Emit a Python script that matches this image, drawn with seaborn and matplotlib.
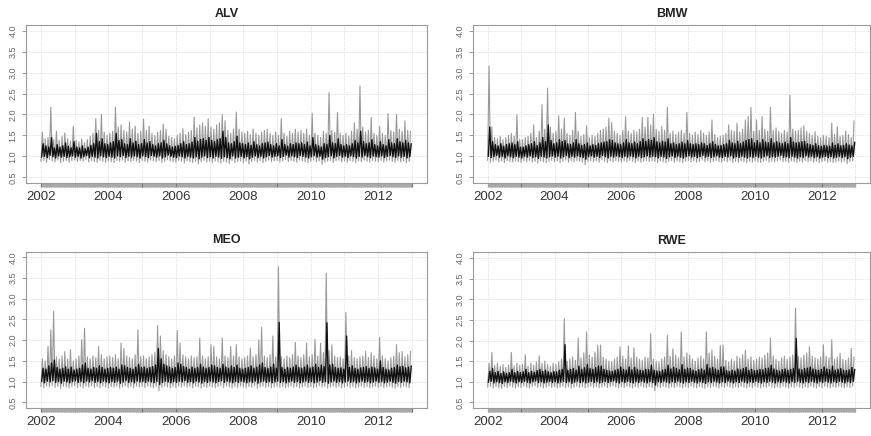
import numpy as np
import pandas as pd
import matplotlib
matplotlib.use("Agg")
import matplotlib.pyplot as plt
import seaborn as sns
from matplotlib.ticker import FixedLocator

# monthly readings, Jan 2002 .. Dec 2012 (one row per year)
# peak / trough = grey envelope, core_hi / core_lo = dark band
alv_peak = [
    1.58, 1.42, 1.45, 2.17, 1.40, 1.60, 1.38, 1.48, 1.56, 1.42, 1.36, 1.72,
    1.38, 1.35, 1.42, 1.32, 1.40, 1.48, 1.55, 1.90, 1.62, 2.00, 1.58, 1.50,
    1.55, 1.60, 2.17, 1.70, 1.75, 1.62, 1.58, 1.82, 1.65, 1.72, 1.55, 1.60,
    1.89, 1.62, 1.72, 1.55, 1.50, 1.58, 1.62, 1.77, 1.65, 1.48, 1.45, 1.42,
    1.50, 1.55, 1.66, 1.52, 1.58, 1.62, 1.94, 1.68, 1.75, 1.80, 1.72, 1.90,
    1.70, 1.65, 1.75, 1.80, 2.00, 1.85, 1.62, 1.55, 1.65, 2.06, 1.65, 1.58,
    1.55, 1.60, 1.52, 1.65, 1.55, 1.50, 1.58, 1.62, 1.65, 1.55, 1.50, 1.58,
    1.50, 1.90, 1.55, 1.48, 1.60, 1.55, 1.65, 1.58, 1.62, 1.55, 1.65, 1.50,
    2.03, 1.55, 1.50, 1.45, 1.60, 1.55, 2.52, 1.62, 1.58, 2.05, 1.55, 1.50,
    1.55, 1.48, 1.60, 1.80, 1.65, 2.68, 1.70, 1.58, 1.62, 1.93, 1.55, 1.50,
    1.72, 1.55, 1.50, 2.02, 1.62, 1.58, 2.00, 1.65, 1.60, 1.85, 1.62, 1.60,
]
alv_trough = [
    0.88, 0.90, 0.86, 0.92, 0.89, 0.87, 0.91, 0.85, 0.88, 0.90, 0.86, 0.89,
    0.91, 0.87, 0.90, 0.88, 0.92, 0.86, 0.89, 0.87, 0.85, 0.90, 0.88, 0.86,
    0.89, 0.87, 0.85, 0.90, 0.88, 0.91, 0.86, 0.89, 0.87, 0.90, 0.88, 0.85,
    0.90, 0.88, 0.86, 0.91, 0.89, 0.87, 0.90, 0.85, 0.88, 0.92, 0.89, 0.87,
    0.86, 0.90, 0.88, 0.84, 0.89, 0.87, 0.85, 0.88, 0.82, 0.87, 0.90, 0.86,
    0.88, 0.85, 0.89, 0.87, 0.84, 0.88, 0.86, 0.83, 0.90, 0.85, 0.87, 0.89,
    0.85, 0.88, 0.82, 0.87, 0.90, 0.86, 0.89, 0.85, 0.88, 0.91, 0.87, 0.89,
    0.90, 0.86, 0.89, 0.92, 0.87, 0.90, 0.88, 0.86, 0.91, 0.89, 0.87, 0.85,
    0.88, 0.91, 0.87, 0.89, 0.80, 0.86, 0.88, 0.90, 0.85, 0.89, 0.91, 0.87,
    0.89, 0.86, 0.90, 0.88, 0.85, 0.89, 0.87, 0.91, 0.88, 0.86, 0.90, 0.88,
    0.87, 0.90, 0.86, 0.89, 0.91, 0.88, 0.86, 0.90, 0.87, 0.89, 0.85, 0.88,
]
alv_core_hi = [
    1.30, 1.25, 1.22, 1.45, 1.20, 1.28, 1.22, 1.25, 1.32, 1.24, 1.20, 1.35,
    1.22, 1.20, 1.25, 1.18, 1.22, 1.26, 1.30, 1.55, 1.35, 1.42, 1.30, 1.28,
    1.32, 1.35, 1.55, 1.38, 1.40, 1.30, 1.28, 1.42, 1.32, 1.36, 1.28, 1.30,
    1.40, 1.32, 1.35, 1.28, 1.25, 1.30, 1.32, 1.38, 1.30, 1.25, 1.22, 1.24,
    1.26, 1.30, 1.35, 1.28, 1.30, 1.34, 1.45, 1.36, 1.40, 1.42, 1.38, 1.45,
    1.38, 1.35, 1.40, 1.42, 1.60, 1.45, 1.32, 1.30, 1.35, 1.48, 1.32, 1.30,
    1.28, 1.32, 1.26, 1.35, 1.28, 1.25, 1.30, 1.32, 1.34, 1.28, 1.25, 1.30,
    1.25, 1.40, 1.28, 1.24, 1.30, 1.28, 1.32, 1.30, 1.32, 1.28, 1.34, 1.25,
    1.45, 1.28, 1.25, 1.22, 1.30, 1.28, 1.50, 1.32, 1.30, 1.42, 1.28, 1.25,
    1.28, 1.25, 1.30, 1.38, 1.32, 1.60, 1.35, 1.30, 1.32, 1.40, 1.28, 1.25,
    1.35, 1.28, 1.25, 1.40, 1.32, 1.30, 1.42, 1.35, 1.32, 1.38, 1.32, 1.30,
]
alv_core_lo = [
    0.98, 1.00, 0.97, 1.02, 0.99, 0.96, 1.01, 0.98, 1.00, 0.97, 0.99, 1.01,
    0.98, 1.00, 0.96, 0.99, 1.02, 0.97, 1.00, 0.98, 0.96, 1.01, 0.99, 0.97,
    1.00, 0.98, 0.96, 1.01, 0.99, 1.02, 0.97, 1.00, 0.98, 1.01, 0.99, 0.96,
    1.01, 0.99, 0.97, 1.02, 1.00, 0.98, 1.01, 0.96, 0.99, 1.03, 1.00, 0.98,
    0.97, 1.01, 0.99, 0.96, 1.00, 0.98, 0.96, 0.99, 0.94, 0.98, 1.01, 0.97,
    0.99, 0.96, 1.00, 0.98, 0.95, 0.99, 0.97, 0.94, 1.01, 0.96, 0.98, 1.00,
    0.96, 0.99, 0.94, 0.98, 1.01, 0.97, 1.00, 0.96, 0.99, 1.02, 0.98, 1.00,
    1.01, 0.97, 1.00, 1.03, 0.98, 1.01, 0.99, 0.97, 1.02, 1.00, 0.98, 0.96,
    0.99, 1.02, 0.98, 1.00, 0.93, 0.97, 0.99, 1.01, 0.96, 1.00, 1.02, 0.98,
    1.00, 0.97, 1.01, 0.99, 0.96, 1.00, 0.98, 1.02, 0.99, 0.97, 1.01, 0.99,
    0.98, 1.01, 0.97, 1.00, 1.02, 0.99, 0.97, 1.01, 0.98, 1.00, 0.96, 0.99,
]

bmw_peak = [
    3.16, 1.70, 1.45, 1.42, 1.48, 1.40, 1.45, 1.50, 1.55, 1.48, 1.99, 1.40,
    1.40, 1.45, 1.48, 1.55, 1.75, 1.45, 1.60, 2.23, 1.65, 2.63, 1.70, 1.55,
    1.60, 1.97, 1.65, 1.91, 1.55, 1.50, 1.62, 2.05, 1.60, 1.48, 1.52, 1.73,
    1.45, 1.50, 1.48, 1.55, 1.62, 1.65, 1.70, 1.91, 1.81, 1.60, 1.55, 1.50,
    1.62, 1.95, 1.60, 1.55, 1.62, 1.58, 1.65, 1.93, 1.70, 1.93, 1.75, 2.01,
    1.65, 1.60, 1.71, 1.62, 2.17, 1.55, 1.60, 1.52, 1.58, 1.62, 1.55, 2.05,
    1.55, 1.50, 1.58, 1.52, 1.62, 1.55, 1.50, 1.58, 1.87, 1.52, 1.45, 1.48,
    1.50, 1.55, 1.75, 1.62, 1.60, 1.79, 1.58, 1.65, 1.87, 1.95, 2.17, 1.60,
    1.87, 1.62, 1.95, 1.65, 1.60, 2.17, 1.62, 1.68, 1.60, 1.55, 1.62, 1.58,
    2.46, 1.65, 1.60, 1.62, 1.68, 1.73, 1.60, 1.55, 1.50, 1.59, 1.48, 1.45,
    1.50, 1.48, 1.45, 1.79, 1.52, 1.71, 1.48, 1.50, 1.60, 1.52, 1.45, 1.85,
]
bmw_trough = [
    0.90, 0.86, 0.88, 0.91, 0.87, 0.89, 0.85, 0.90, 0.88, 0.86, 0.89, 0.87,
    0.85, 0.89, 0.87, 0.90, 0.86, 0.88, 0.84, 0.89, 0.87, 0.85, 0.88, 0.90,
    0.87, 0.89, 0.85, 0.88, 0.91, 0.86, 0.89, 0.87, 0.90, 0.88, 0.86, 0.80,
    0.88, 0.90, 0.87, 0.89, 0.86, 0.91, 0.88, 0.85, 0.89, 0.87, 0.90, 0.88,
    0.86, 0.89, 0.87, 0.90, 0.88, 0.85, 0.89, 0.86, 0.88, 0.90, 0.87, 0.89,
    0.88, 0.85, 0.89, 0.87, 0.84, 0.88, 0.90, 0.86, 0.89, 0.87, 0.85, 0.88,
    0.90, 0.87, 0.89, 0.86, 0.88, 0.91, 0.87, 0.89, 0.86, 0.88, 0.90, 0.87,
    0.86, 0.89, 0.87, 0.90, 0.85, 0.88, 0.86, 0.89, 0.87, 0.85, 0.88, 0.86,
    0.89, 0.87, 0.85, 0.88, 0.90, 0.86, 0.88, 0.87, 0.89, 0.91, 0.87, 0.88,
    0.86, 0.89, 0.87, 0.85, 0.88, 0.86, 0.90, 0.87, 0.89, 0.86, 0.88, 0.85,
    0.87, 0.89, 0.86, 0.88, 0.85, 0.87, 0.89, 0.86, 0.88, 0.82, 0.87, 0.89,
]
bmw_core_hi = [
    1.70, 1.35, 1.28, 1.25, 1.30, 1.24, 1.28, 1.30, 1.32, 1.28, 1.35, 1.22,
    1.22, 1.25, 1.28, 1.30, 1.35, 1.26, 1.32, 1.45, 1.35, 1.75, 1.38, 1.30,
    1.32, 1.40, 1.35, 1.38, 1.30, 1.28, 1.32, 1.40, 1.30, 1.26, 1.28, 1.32,
    1.25, 1.28, 1.26, 1.30, 1.32, 1.34, 1.35, 1.40, 1.38, 1.32, 1.30, 1.28,
    1.32, 1.40, 1.32, 1.30, 1.34, 1.30, 1.35, 1.42, 1.36, 1.40, 1.38, 1.45,
    1.35, 1.32, 1.36, 1.34, 1.42, 1.30, 1.32, 1.28, 1.30, 1.34, 1.30, 1.38,
    1.30, 1.28, 1.30, 1.28, 1.32, 1.30, 1.26, 1.30, 1.35, 1.28, 1.25, 1.26,
    1.28, 1.30, 1.38, 1.32, 1.30, 1.36, 1.30, 1.34, 1.38, 1.40, 1.42, 1.32,
    1.38, 1.32, 1.40, 1.34, 1.32, 1.42, 1.32, 1.35, 1.32, 1.30, 1.34, 1.30,
    1.45, 1.34, 1.32, 1.33, 1.35, 1.36, 1.30, 1.28, 1.26, 1.30, 1.25, 1.24,
    1.26, 1.25, 1.24, 1.32, 1.26, 1.30, 1.25, 1.26, 1.30, 1.27, 1.25, 1.34,
]
bmw_core_lo = [
    1.00, 0.97, 0.99, 1.02, 0.98, 1.00, 0.96, 1.01, 0.99, 0.97, 1.00, 0.98,
    0.96, 1.00, 0.98, 1.01, 0.97, 0.99, 0.95, 1.00, 0.98, 0.96, 0.99, 1.01,
    0.98, 1.00, 0.96, 0.99, 1.02, 0.97, 1.00, 0.98, 1.01, 0.99, 0.97, 0.93,
    0.99, 1.01, 0.98, 1.00, 0.97, 1.02, 0.99, 0.96, 1.00, 0.98, 1.01, 0.99,
    0.97, 1.00, 0.98, 1.01, 0.99, 0.96, 1.00, 0.97, 0.99, 1.01, 0.98, 1.00,
    0.99, 0.96, 1.00, 0.98, 0.95, 0.99, 1.01, 0.97, 1.00, 0.98, 0.96, 0.99,
    1.01, 0.98, 1.00, 0.97, 0.99, 1.02, 0.98, 1.00, 0.97, 0.99, 1.01, 0.98,
    0.97, 1.00, 0.98, 1.01, 0.96, 0.99, 0.97, 1.00, 0.98, 0.96, 0.99, 0.97,
    1.00, 0.98, 0.96, 0.99, 1.01, 0.97, 0.99, 0.98, 1.00, 1.02, 0.98, 0.99,
    0.97, 1.00, 0.98, 0.96, 0.99, 0.97, 1.01, 0.98, 1.00, 0.97, 0.99, 0.96,
    0.98, 1.00, 0.97, 0.99, 0.96, 0.98, 1.00, 0.97, 0.99, 0.94, 0.98, 1.00,
]

meo_peak = [
    1.55, 1.50, 1.85, 2.25, 2.70, 1.60, 1.55, 1.62, 1.73, 1.55, 1.77, 1.50,
    1.55, 1.62, 2.02, 2.29, 1.60, 1.55, 1.62, 1.58, 1.85, 1.65, 1.55, 1.60,
    1.62, 1.58, 1.65, 1.55, 1.93, 1.80, 1.62, 1.58, 1.55, 1.65, 2.25, 1.60,
    1.62, 1.55, 1.60, 1.65, 1.70, 2.35, 2.10, 1.75, 1.65, 1.60, 1.55, 1.62,
    2.23, 1.93, 1.65, 1.60, 1.55, 1.62, 1.58, 1.60, 2.05, 1.62, 1.55, 1.60,
    1.89, 1.85, 1.60, 1.55, 2.05, 1.62, 1.58, 1.85, 1.62, 1.89, 1.60, 1.55,
    1.58, 1.62, 1.81, 1.60, 1.65, 2.01, 2.31, 1.62, 1.58, 1.65, 2.10, 1.60,
    3.77, 1.60, 1.55, 1.62, 1.58, 1.65, 1.95, 1.62, 1.58, 1.65, 1.93, 1.60,
    1.65, 2.02, 1.62, 1.93, 1.70, 3.62, 1.75, 1.89, 1.62, 1.58, 1.60, 1.55,
    2.67, 1.62, 1.75, 1.58, 1.55, 1.60, 1.62, 1.73, 1.58, 1.70, 1.62, 1.55,
    2.07, 1.62, 1.55, 1.50, 1.58, 1.62, 1.89, 1.70, 1.73, 1.60, 1.65, 1.73,
]
meo_trough = [
    0.88, 0.85, 0.89, 0.87, 0.90, 0.86, 0.88, 0.84, 0.89, 0.87, 0.85, 0.88,
    0.90, 0.86, 0.88, 0.85, 0.89, 0.87, 0.90, 0.86, 0.88, 0.85, 0.89, 0.87,
    0.85, 0.88, 0.86, 0.89, 0.84, 0.87, 0.90, 0.86, 0.88, 0.85, 0.89, 0.87,
    0.88, 0.86, 0.89, 0.87, 0.85, 0.88, 0.78, 0.86, 0.89, 0.87, 0.85, 0.88,
    0.86, 0.89, 0.87, 0.90, 0.86, 0.88, 0.85, 0.89, 0.87, 0.84, 0.88, 0.86,
    0.89, 0.87, 0.85, 0.88, 0.90, 0.86, 0.89, 0.87, 0.85, 0.88, 0.86, 0.89,
    0.87, 0.85, 0.88, 0.86, 0.89, 0.84, 0.87, 0.89, 0.86, 0.88, 0.85, 0.87,
    0.89, 0.86, 0.88, 0.85, 0.87, 0.89, 0.86, 0.88, 0.85, 0.87, 0.89, 0.86,
    0.88, 0.85, 0.87, 0.90, 0.86, 0.88, 0.84, 0.87, 0.89, 0.86, 0.88, 0.85,
    0.87, 0.89, 0.86, 0.88, 0.85, 0.87, 0.89, 0.86, 0.88, 0.85, 0.87, 0.89,
    0.86, 0.88, 0.85, 0.87, 0.89, 0.86, 0.84, 0.88, 0.86, 0.89, 0.87, 0.85,
]
meo_core_hi = [
    1.32, 1.30, 1.38, 1.45, 1.52, 1.34, 1.30, 1.32, 1.36, 1.30, 1.35, 1.28,
    1.30, 1.32, 1.40, 1.45, 1.32, 1.30, 1.34, 1.32, 1.38, 1.34, 1.30, 1.32,
    1.34, 1.32, 1.35, 1.30, 1.40, 1.38, 1.34, 1.32, 1.30, 1.35, 1.42, 1.34,
    1.35, 1.32, 1.34, 1.36, 1.40, 1.80, 1.55, 1.42, 1.38, 1.35, 1.32, 1.34,
    1.45, 1.42, 1.36, 1.34, 1.30, 1.35, 1.32, 1.34, 1.42, 1.35, 1.32, 1.34,
    1.40, 1.38, 1.34, 1.32, 1.42, 1.35, 1.32, 1.38, 1.34, 1.40, 1.32, 1.30,
    1.32, 1.34, 1.38, 1.32, 1.35, 1.40, 1.45, 1.34, 1.32, 1.35, 1.42, 1.32,
    2.43, 1.34, 1.30, 1.34, 1.32, 1.35, 1.40, 1.34, 1.32, 1.35, 1.40, 1.33,
    1.35, 1.42, 1.34, 1.40, 1.36, 2.42, 1.40, 1.42, 1.34, 1.32, 1.33, 1.30,
    2.10, 1.34, 1.38, 1.32, 1.30, 1.33, 1.34, 1.36, 1.32, 1.35, 1.33, 1.30,
    1.50, 1.34, 1.30, 1.28, 1.32, 1.34, 1.40, 1.36, 1.37, 1.33, 1.35, 1.38,
]
meo_core_lo = [
    1.00, 0.97, 1.01, 0.99, 1.02, 0.98, 1.00, 0.96, 1.01, 0.99, 0.97, 1.00,
    1.02, 0.98, 1.00, 0.97, 1.01, 0.99, 1.02, 0.98, 1.00, 0.97, 1.01, 0.99,
    0.97, 1.00, 0.98, 1.01, 0.96, 0.99, 1.02, 0.98, 1.00, 0.97, 1.01, 0.99,
    1.00, 0.98, 1.01, 0.99, 0.97, 1.00, 0.93, 0.98, 1.01, 0.99, 0.97, 1.00,
    0.98, 1.01, 0.99, 1.02, 0.98, 1.00, 0.97, 1.01, 0.99, 0.96, 1.00, 0.98,
    1.01, 0.99, 0.97, 1.00, 1.02, 0.98, 1.01, 0.99, 0.97, 1.00, 0.98, 1.01,
    0.99, 0.97, 1.00, 0.98, 1.01, 0.96, 0.99, 1.01, 0.98, 1.00, 0.97, 0.99,
    1.01, 0.98, 1.00, 0.97, 0.99, 1.01, 0.98, 1.00, 0.97, 0.99, 1.01, 0.98,
    1.00, 0.97, 0.99, 1.02, 0.98, 1.00, 0.96, 0.99, 1.01, 0.98, 1.00, 0.97,
    0.99, 1.01, 0.98, 1.00, 0.97, 0.99, 1.01, 0.98, 1.00, 0.97, 0.99, 1.01,
    0.98, 1.00, 0.97, 0.99, 1.01, 0.98, 0.96, 1.00, 0.98, 1.01, 0.99, 0.97,
]

rwe_peak = [
    1.45, 1.71, 1.40, 1.45, 1.38, 1.42, 1.35, 1.40, 1.71, 1.38, 1.45, 1.40,
    1.42, 1.65, 1.38, 1.45, 1.40, 1.48, 1.63, 1.45, 1.50, 1.42, 1.38, 1.45,
    1.42, 1.48, 1.55, 2.53, 1.50, 1.55, 1.60, 1.52, 2.06, 1.58, 1.70, 2.21,
    1.65, 1.60, 1.72, 1.89, 1.89, 1.60, 1.55, 1.50, 1.48, 1.55, 1.60, 1.85,
    1.62, 1.55, 1.87, 1.58, 1.82, 1.60, 1.55, 1.52, 1.60, 1.58, 2.17, 1.55,
    1.50, 1.48, 1.55, 1.60, 2.13, 1.62, 1.80, 1.65, 1.58, 2.21, 1.60, 1.70,
    1.65, 1.55, 1.50, 1.58, 1.62, 1.55, 2.21, 1.70, 1.77, 1.62, 1.55, 1.88,
    1.89, 1.52, 1.48, 1.55, 1.50, 1.62, 1.58, 1.65, 1.77, 1.55, 1.60, 1.52,
    1.55, 1.60, 1.58, 1.65, 1.70, 2.06, 1.62, 1.55, 1.50, 1.58, 1.62, 1.55,
    1.60, 1.65, 2.79, 1.62, 1.58, 1.65, 1.70, 1.85, 1.62, 1.58, 1.55, 1.60,
    1.90, 1.62, 1.58, 2.02, 1.55, 1.60, 1.69, 1.55, 1.52, 1.58, 1.81, 1.60,
]
rwe_trough = [
    0.87, 0.89, 0.85, 0.88, 0.86, 0.84, 0.88, 0.86, 0.89, 0.87, 0.85, 0.88,
    0.86, 0.89, 0.87, 0.85, 0.88, 0.90, 0.86, 0.88, 0.85, 0.87, 0.89, 0.86,
    0.88, 0.85, 0.87, 0.89, 0.86, 0.88, 0.84, 0.87, 0.89, 0.86, 0.88, 0.85,
    0.87, 0.89, 0.86, 0.88, 0.85, 0.87, 0.89, 0.86, 0.88, 0.90, 0.87, 0.85,
    0.88, 0.86, 0.89, 0.87, 0.85, 0.88, 0.86, 0.89, 0.87, 0.85, 0.88, 0.86,
    0.78, 0.88, 0.86, 0.89, 0.87, 0.85, 0.88, 0.86, 0.89, 0.87, 0.85, 0.88,
    0.86, 0.89, 0.87, 0.85, 0.88, 0.86, 0.84, 0.88, 0.86, 0.89, 0.87, 0.85,
    0.88, 0.86, 0.89, 0.87, 0.85, 0.88, 0.86, 0.89, 0.87, 0.85, 0.88, 0.86,
    0.89, 0.87, 0.85, 0.88, 0.86, 0.89, 0.87, 0.85, 0.88, 0.86, 0.89, 0.87,
    0.85, 0.88, 0.86, 0.89, 0.87, 0.85, 0.88, 0.86, 0.89, 0.87, 0.85, 0.88,
    0.86, 0.89, 0.87, 0.85, 0.88, 0.86, 0.89, 0.87, 0.85, 0.88, 0.86, 0.89,
]
rwe_core_hi = [
    1.25, 1.32, 1.22, 1.25, 1.20, 1.24, 1.20, 1.22, 1.30, 1.22, 1.25, 1.22,
    1.24, 1.30, 1.22, 1.25, 1.23, 1.27, 1.30, 1.25, 1.28, 1.24, 1.22, 1.25,
    1.24, 1.28, 1.30, 1.90, 1.28, 1.30, 1.32, 1.28, 1.38, 1.30, 1.34, 1.42,
    1.32, 1.30, 1.34, 1.38, 1.38, 1.30, 1.28, 1.26, 1.25, 1.28, 1.30, 1.36,
    1.30, 1.28, 1.36, 1.29, 1.35, 1.30, 1.28, 1.27, 1.30, 1.29, 1.40, 1.28,
    1.26, 1.25, 1.28, 1.30, 1.40, 1.31, 1.35, 1.32, 1.29, 1.42, 1.30, 1.33,
    1.32, 1.28, 1.26, 1.29, 1.31, 1.28, 1.42, 1.33, 1.35, 1.31, 1.28, 1.36,
    1.36, 1.27, 1.25, 1.28, 1.26, 1.31, 1.29, 1.32, 1.35, 1.28, 1.30, 1.27,
    1.28, 1.30, 1.29, 1.32, 1.33, 1.40, 1.31, 1.28, 1.26, 1.29, 1.31, 1.28,
    1.30, 1.32, 2.05, 1.31, 1.29, 1.32, 1.33, 1.36, 1.31, 1.29, 1.28, 1.30,
    1.36, 1.31, 1.29, 1.38, 1.28, 1.30, 1.32, 1.28, 1.27, 1.29, 1.35, 1.30,
]
rwe_core_lo = [
    0.99, 1.01, 0.97, 1.00, 0.98, 0.96, 1.00, 0.98, 1.01, 0.99, 0.97, 1.00,
    0.98, 1.01, 0.99, 0.97, 1.00, 1.02, 0.98, 1.00, 0.97, 0.99, 1.01, 0.98,
    1.00, 0.97, 0.99, 1.01, 0.98, 1.00, 0.96, 0.99, 1.01, 0.98, 1.00, 0.97,
    0.99, 1.01, 0.98, 1.00, 0.97, 0.99, 1.01, 0.98, 1.00, 1.02, 0.99, 0.97,
    1.00, 0.98, 1.01, 0.99, 0.97, 1.00, 0.98, 1.01, 0.99, 0.97, 1.00, 0.98,
    0.92, 1.00, 0.98, 1.01, 0.99, 0.97, 1.00, 0.98, 1.01, 0.99, 0.97, 1.00,
    0.98, 1.01, 0.99, 0.97, 1.00, 0.98, 0.96, 1.00, 0.98, 1.01, 0.99, 0.97,
    1.00, 0.98, 1.01, 0.99, 0.97, 1.00, 0.98, 1.01, 0.99, 0.97, 1.00, 0.98,
    1.01, 0.99, 0.97, 1.00, 0.98, 1.01, 0.99, 0.97, 1.00, 0.98, 1.01, 0.99,
    0.97, 1.00, 0.98, 1.01, 0.99, 0.97, 1.00, 0.98, 1.01, 0.99, 0.97, 1.00,
    0.98, 1.01, 0.99, 0.97, 1.00, 0.98, 1.01, 0.99, 0.97, 1.00, 0.98, 1.01,
]

titles = ["ALV", "BMW", "MEO", "RWE"]
series = {
    "ALV": (alv_peak, alv_trough, alv_core_hi, alv_core_lo),
    "BMW": (bmw_peak, bmw_trough, bmw_core_hi, bmw_core_lo),
    "MEO": (meo_peak, meo_trough, meo_core_hi, meo_core_lo),
    "RWE": (rwe_peak, rwe_trough, rwe_core_hi, rwe_core_lo),
}
year_ticks = list(range(2002, 2014))
year_labels = [str(y) if y % 2 == 0 else "" for y in year_ticks]
y_ticks = [0.5, 1.0, 1.5, 2.0, 2.5, 3.0, 3.5, 4.0]

sns.set_theme(style="white")
plt.rcParams["font.family"] = ["Liberation Sans", "DejaVu Sans"]

fig = plt.figure(figsize=(8.71, 4.36), dpi=100)
boxes = {
    "ALV": [0.030, 0.580, 0.460, 0.363],
    "BMW": [0.543, 0.580, 0.456, 0.363],
    "MEO": [0.030, 0.064, 0.460, 0.359],
    "RWE": [0.543, 0.064, 0.456, 0.357],
}


def zigzag(lo, hi, offset_lo, offset_hi):
    months = 2002 + np.arange(len(lo)) / 12.0
    x = np.empty(2 * len(lo))
    v = np.empty(2 * len(lo))
    x[0::2] = months + offset_lo / 12.0
    x[1::2] = months + offset_hi / 12.0
    v[0::2] = lo
    v[1::2] = hi
    return pd.DataFrame({"year": x, "value": v})


for name in titles:
    peak, trough, core_hi, core_lo = series[name]
    ax = fig.add_axes(boxes[name])
    grey = zigzag(trough, peak, 0.0, 0.5)
    dark = zigzag(core_lo, core_hi, 0.25, 0.75)
    sns.lineplot(data=grey, x="year", y="value", sort=False, estimator=None,
                 color="#999999", lw=0.8, ax=ax)
    sns.lineplot(data=dark, x="year", y="value", sort=False, estimator=None,
                 color="#111111", lw=1.0, ax=ax)

    ax.set_xlim(2001.56, 2013.44)
    ax.set_ylim(0.36, 4.14)
    ax.set_xlabel("")
    ax.set_ylabel("")
    ax.set_title(name, fontsize=9, fontweight="bold", pad=6, color="#222222")

    ax.set_xticks(year_ticks)
    ax.set_xticklabels(year_labels, fontsize=9.5, color="#333333")
    ax.xaxis.set_minor_locator(FixedLocator(np.arange(2002, 2013.001, 1 / 52)))
    ax.tick_params(axis="x", which="both", bottom=True, direction="out")
    ax.tick_params(axis="x", which="major", length=3, width=0.9, color="#777777", pad=3)
    ax.tick_params(axis="x", which="minor", length=3, width=0.7, color="#a8a8a8")

    ax.set_yticks(y_ticks)
    ax.set_yticklabels([f"{t:.1f}" for t in y_ticks], rotation=90, va="center",
                       fontsize=6.5, color="#666666")
    ax.tick_params(axis="y", which="major", left=True, direction="out",
                   length=3, width=0.6, color="#888888", pad=3)

    ax.grid(axis="x", which="major", color="#cfcfcf", lw=0.6, ls=":")
    ax.grid(axis="y", color="#ececec", lw=0.6, ls="-")
    ax.set_axisbelow(True)
    for spine in ax.spines.values():
        spine.set_color("#9a9a9a")
        spine.set_linewidth(0.8)

fig.savefig("out.png", dpi=100)
